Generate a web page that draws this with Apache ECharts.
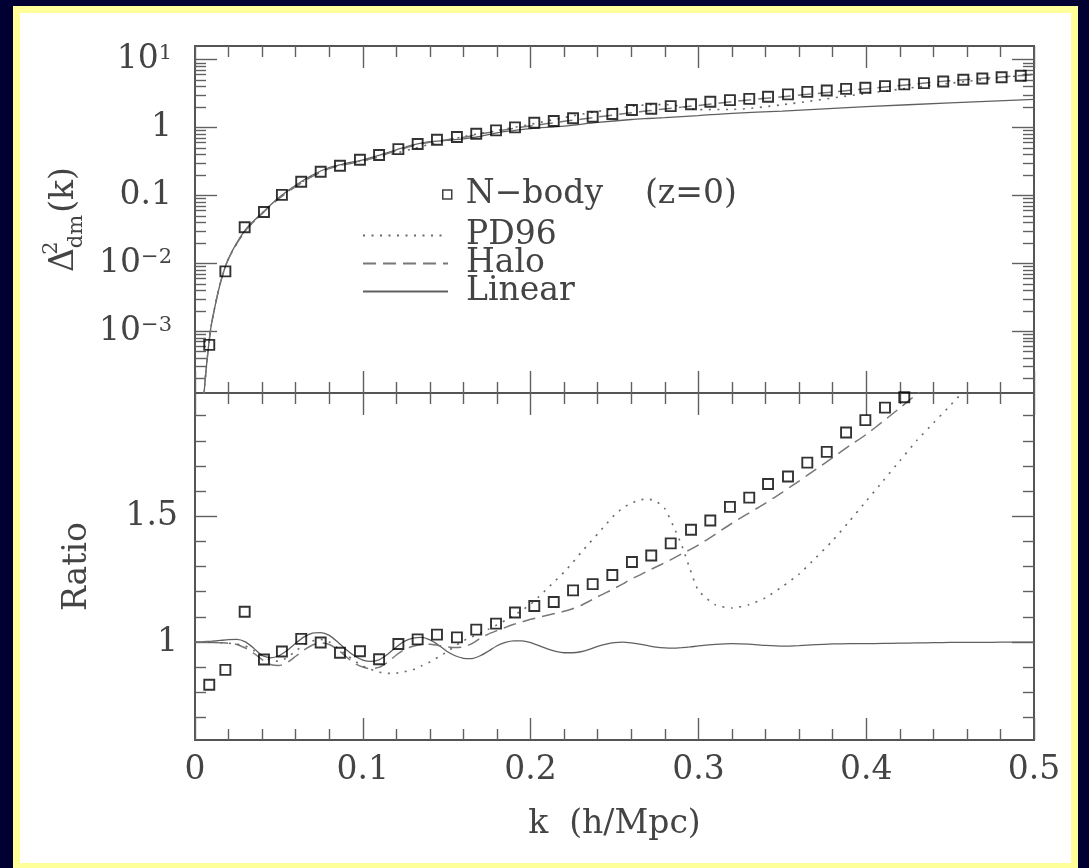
<!DOCTYPE html>
<html><head><meta charset="utf-8">
<script src="https://cdn.jsdelivr.net/npm/echarts@6/dist/echarts.min.js"></script>
<style>
html,body{margin:0;padding:0;width:1089px;height:868px;background:#000033;overflow:hidden}
#frame{position:absolute;left:13px;top:6px;width:1065px;height:862px;background:#ffff99}
#paper{position:absolute;left:20px;top:13px;width:1051px;height:850px;background:#ffffff}
#chart{position:absolute;left:0;top:0;width:1089px;height:868px}
</style></head><body>
<div id="frame"></div><div id="paper"></div><div id="chart"></div>
<script>
// ---------- data ----------
const kNbody = [0.0085,0.0181,0.0296,0.0411,0.0518,0.0633,0.0749,0.0864,0.0983,0.1097,0.1212,0.1327,0.1442,0.1561,0.1676,0.1794,0.1907,0.2022,0.2138,0.2253,0.2370,0.2487,0.2604,0.2719,0.2835,0.2956,0.3071,0.3188,0.3303,0.3415,0.3534,0.3649,0.3765,0.3880,0.3995,0.4112,0.4227,0.4344,0.4459,0.4579,0.4692,0.4807,0.4921];
const deltaNbody = [6.3e-4,7.6e-3,0.034,0.057,0.102,0.159,0.223,0.274,0.336,0.394,0.482,0.572,0.662,0.725,0.811,0.91,1.007,1.18,1.25,1.37,1.44,1.58,1.81,1.89,2.07,2.20,2.40,2.54,2.65,2.84,3.08,3.35,3.52,3.72,3.85,4.08,4.33,4.52,4.76,5.07,5.27,5.51,5.79];
const ratioNbody = [0.830,0.889,1.120,0.930,0.962,1.012,0.998,0.957,0.963,0.931,0.992,1.010,1.029,1.018,1.049,1.073,1.117,1.143,1.159,1.205,1.230,1.266,1.318,1.344,1.392,1.446,1.483,1.537,1.574,1.628,1.658,1.713,1.756,1.833,1.882,1.932,1.973];

const kTop = [0.005,0.006,0.007,0.0085,0.01,0.015,0.02,0.03,0.04,0.05,0.06,0.07,0.08,0.09,0.10,0.11,0.12,0.13,0.14,0.15,0.16,0.17,0.18,0.19,0.20,0.22,0.24,0.26,0.27,0.28,0.29,0.30,0.32,0.35,0.40,0.45,0.50];
const linearTop = [8.9e-5,1.84e-4,3.4e-4,7.4e-4,1.35e-3,5.0e-3,0.0118,0.031,0.055,0.093,0.141,0.200,0.258,0.296,0.334,0.393,0.470,0.558,0.618,0.648,0.683,0.742,0.837,0.904,0.967,1.05,1.19,1.315,1.36,1.40,1.45,1.50,1.62,1.75,2.03,2.31,2.60];
const pd96Top = [8.9e-5,1.84e-4,3.4e-4,7.4e-4,1.35e-3,5.0e-3,0.0117,0.0305,0.0548,0.0916,0.138,0.194,0.251,0.290,0.326,0.370,0.420,0.490,0.566,0.648,0.734,0.818,0.908,1.005,1.115,1.405,1.73,2.05,2.16,2.18,2.05,1.84,1.85,2.17,3.18,4.50,6.1];
const haloTop = [8.9e-5,1.84e-4,3.4e-4,7.4e-4,1.35e-3,5.0e-3,0.0117,0.0302,0.054,0.090,0.135,0.191,0.248,0.287,0.324,0.378,0.456,0.541,0.609,0.663,0.719,0.806,0.888,0.974,1.057,1.234,1.428,1.65,1.765,1.88,2.0,2.12,2.40,2.84,3.72,4.9,6.0];

const kRatio = [0,0.005,0.01,0.015,0.02,0.025,0.03,0.035,0.04,0.045,0.05,0.055,0.06,0.065,0.07,0.075,0.08,0.085,0.09,0.095,0.10,0.105,0.11,0.115,0.12,0.125,0.13,0.135,0.14,0.145,0.15,0.155,0.16,0.165,0.17,0.175,0.18,0.185,0.19,0.195,0.20,0.205,0.21,0.215,0.22,0.225,0.23,0.235,0.24,0.245,0.25,0.255,0.26,0.265,0.27,0.275,0.28,0.285,0.29,0.295,0.30,0.31,0.32,0.33,0.34,0.35,0.36,0.37,0.38,0.39,0.40,0.41,0.42,0.43,0.44,0.45,0.46,0.47,0.48,0.49,0.50];
const linearRatio = [1.000,1.001,1.003,1.006,1.009,1.010,1.000,0.975,0.946,0.937,0.945,0.967,0.995,1.020,1.035,1.037,1.026,1.000,0.970,0.945,0.928,0.923,0.930,0.952,0.980,1.003,1.015,1.018,1.008,0.988,0.963,0.945,0.935,0.934,0.945,0.964,0.985,0.998,1.004,1.004,0.997,0.985,0.972,0.962,0.957,0.957,0.961,0.970,0.982,0.991,0.997,0.999,0.996,0.991,0.985,0.979,0.976,0.975,0.977,0.980,0.984,0.990,0.993,0.991,0.986,0.983,0.985,0.989,0.992,0.993,0.993,0.994,0.995,0.996,0.997,0.998,0.998,0.998,0.999,0.999,0.999];
const haloRatio = [1.000,1.000,0.999,0.997,0.995,0.990,0.976,0.955,0.930,0.910,0.906,0.918,0.943,0.968,0.988,0.996,0.990,0.970,0.942,0.915,0.900,0.893,0.900,0.920,0.948,0.970,0.983,0.990,0.991,0.986,0.981,0.978,0.980,0.993,1.015,1.032,1.045,1.058,1.070,1.080,1.090,1.098,1.106,1.114,1.122,1.132,1.145,1.162,1.180,1.196,1.213,1.231,1.250,1.266,1.283,1.299,1.315,1.332,1.350,1.367,1.385,1.428,1.472,1.512,1.552,1.595,1.640,1.686,1.733,1.780,1.825,1.877,1.930,1.985,2.040,null,null,null,null,null,null];
const pd96Ratio = [1.000,1.000,0.999,0.997,0.995,0.991,0.984,0.966,0.945,0.927,0.923,0.938,0.964,0.988,1.004,1.010,1.000,0.976,0.950,0.925,0.905,0.890,0.880,0.875,0.876,0.882,0.890,0.905,0.920,0.940,0.960,0.984,1.005,1.020,1.035,1.051,1.068,1.086,1.105,1.126,1.150,1.180,1.213,1.245,1.278,1.315,1.355,1.393,1.430,1.468,1.505,1.533,1.552,1.565,1.568,1.558,1.530,1.462,1.385,1.290,1.205,1.148,1.135,1.148,1.176,1.220,1.270,1.335,1.403,1.480,1.560,1.640,1.720,1.800,1.870,1.940,2.010,null,null,null,null];

// axis extents and tick values
const kMin = 0, kMax = 0.5, kStep = 0.1;
const topMin = 1.23e-4, topMax = 15.9;
const topMajorTicks = [0.001, 0.01, 0.1, 1, 10];
const topMajorLabels = {'-3':'10{sup|−3}', '-2':'10{sup|−2}', '-1':'0.1', '0':'1', '1':'10{sup|1}'};
const topMinorTicks = [];
[-4,-3,-2,-1,0].forEach(function(d){ [2,3,4,5,6,7,8,9].forEach(function(m){ const v = Number((m*Math.pow(10,d)).toPrecision(3)); if (v > topMin && v < topMax) topMinorTicks.push(v); }); });
const ratioMin = 0.61, ratioMax = 1.99;
const ratioMajorTicks = [1, 1.5];
const ratioMinorTicks = [0.7,0.8,0.9,1.1,1.2,1.3,1.4,1.6,1.7,1.8,1.9];

const NB = 'N−body    (z=0)';
// ---------- styling ----------
const FONT = 'DejaVu Serif';
const TXT = '#444444';
const AX = '#555555';
const TK = '#606060';
const font = {fontFamily: FONT, fontSize: 33, color: TXT};

function pairs(xs, ys){ return xs.map(function(x,i){ return [x, ys[i]]; }); }

function xAx(g, pos, lab){
  return {gridIndex:g, type:'value', position:pos, min:kMin, max:kMax, interval:kStep,
    axisLine:{show:true, onZero:false, lineStyle:{color:AX, width:2}},
    axisTick:{show:true, inside:true, length:22, lineStyle:{color:TK, width:1.4}},
    minorTick:{show:true, splitNumber:5, length:11, lineStyle:{color:TK, width:1.4}},
    splitLine:{show:false}, minorSplitLine:{show:false},
    axisLabel:Object.assign({show:lab, margin:14}, font),
    name: lab ? 'k  (h/Mpc)' : '', nameLocation:'middle', nameGap:68, nameTextStyle:font,
    axisPointer:{show:false}};
}
function yAx(g, type, mn, mx, pos, ticks, len, labelVals, fmt, margin, name, nameGap, nameStyle){
  const o = {gridIndex:g, type:type, min:mn, max:mx, position:pos,
    axisLine:{show:true, onZero:false, lineStyle:{color:AX, width:2}},
    axisTick:{show:true, inside:true, length:len, customValues:ticks, lineStyle:{color:TK, width:1.4}},
    splitLine:{show:false}, minorTick:{show:false},
    axisLabel: labelVals ? Object.assign({show:true, customValues:labelVals, formatter:fmt, margin:margin,
      rich:{sup:{fontFamily:FONT, fontSize:21, color:TXT, verticalAlign:'top', lineHeight:21}}}, font) : {show:false},
    axisPointer:{show:false}};
  if (type === 'log') o.logBase = 10;
  if (name){ o.name = name; o.nameLocation = 'middle'; o.nameGap = nameGap; o.nameTextStyle = nameStyle; }
  return o;
}
const topFmt = function(v){ return topMajorLabels[String(Math.round(Math.log10(v)))]; };
const ratioFmt = function(v){ return String(v); };
const deltaName = '{d|Δ}{sup|2}{sub|dm}{d|(k)}';
const deltaStyle = Object.assign({}, font, {rich:{
  d:{fontFamily:FONT, fontSize:33, color:TXT, lineHeight:46},
  sup:{fontFamily:FONT, fontSize:21, color:TXT, verticalAlign:'top', lineHeight:21, width:0},
  sub:{fontFamily:FONT, fontSize:21, color:TXT, verticalAlign:'bottom', lineHeight:21, padding:[0,2,0,0]}
}});

const dotted = {color:'#6a6a6a', width:1.6, type:[2,6.5]};
const dashed = {color:'#777777', width:1.5, type:[13,7]};
const solid  = {color:'#606060', width:1.3, type:'solid'};
const sq = {color:'rgba(0,0,0,0)', borderColor:'#000000', borderWidth:1.9};

const option = {
  animation:false,
  backgroundColor:'transparent',
  grid:[{left:195, top:46, width:839, height:347, outerBoundsMode:'none'},
        {left:195, top:393, width:839, height:347, outerBoundsMode:'none'}],
  legend:[
    {left:442, top:178, padding:0, orient:'vertical', itemWidth:9, itemHeight:9,
     textStyle:Object.assign({padding:[0,0,0,9]}, font),
     data:[{name:NB, icon:'rect', itemStyle:{color:'rgba(0,0,0,0)', borderColor:'#111', borderWidth:1.5}}], selectedMode:false},
    {left:362, top:219, padding:0, orient:'vertical', itemWidth:85, itemHeight:14, itemGap:-5,
     itemStyle:{opacity:0},
     textStyle:Object.assign({padding:[0,0,0,13]}, font),
     data:['PD96','Halo','Linear'], selectedMode:false}
  ],
  xAxis:[xAx(0,'bottom',false), xAx(0,'top',false), xAx(1,'top',false), xAx(1,'bottom',true)],
  yAxis:[
    yAx(0,'log',topMin,topMax,'left',topMajorTicks,22,topMajorTicks,topFmt,23,deltaName,108,deltaStyle),
    yAx(0,'log',topMin,topMax,'left',topMinorTicks,11),
    yAx(0,'log',topMin,topMax,'right',topMajorTicks,22),
    yAx(0,'log',topMin,topMax,'right',topMinorTicks,11),
    yAx(1,'value',ratioMin,ratioMax,'left',ratioMajorTicks,22,ratioMajorTicks,ratioFmt,17,'Ratio',101,font),
    yAx(1,'value',ratioMin,ratioMax,'left',ratioMinorTicks,11),
    yAx(1,'value',ratioMin,ratioMax,'right',ratioMajorTicks,22),
    yAx(1,'value',ratioMin,ratioMax,'right',ratioMinorTicks,11)
  ],
  series:[
    {name:'Linear', type:'line', xAxisIndex:0, yAxisIndex:0, data:pairs(kTop,linearTop), symbol:'none', smooth:0.3, lineStyle:solid, itemStyle:{color:solid.color}, clip:true, z:2},
    {name:'Halo', type:'line', xAxisIndex:0, yAxisIndex:0, data:pairs(kTop,haloTop), symbol:'none', smooth:0.3, lineStyle:dashed, itemStyle:{color:dashed.color}, clip:true, z:2},
    {name:'PD96', type:'line', xAxisIndex:0, yAxisIndex:0, data:pairs(kTop,pd96Top), symbol:'none', smooth:0.3, lineStyle:dotted, itemStyle:{color:dotted.color}, clip:true, z:2},
    {name:NB, type:'scatter', xAxisIndex:0, yAxisIndex:0, data:pairs(kNbody,deltaNbody), symbol:'rect', symbolSize:10, itemStyle:sq, clip:true, z:3},
    {name:'Linear', type:'line', xAxisIndex:3, yAxisIndex:4, data:pairs(kRatio,linearRatio), symbol:'none', smooth:0.2, lineStyle:solid, itemStyle:{color:solid.color}, clip:true, z:2},
    {name:'Halo', type:'line', xAxisIndex:3, yAxisIndex:4, data:pairs(kRatio,haloRatio), symbol:'none', smooth:0.2, lineStyle:dashed, itemStyle:{color:dashed.color}, clip:true, z:2},
    {name:'PD96', type:'line', xAxisIndex:3, yAxisIndex:4, data:pairs(kRatio,pd96Ratio), symbol:'none', smooth:0.2, lineStyle:dotted, itemStyle:{color:dotted.color}, clip:true, z:2},
    {name:NB, type:'scatter', xAxisIndex:3, yAxisIndex:4, data:pairs(kNbody.slice(0, ratioNbody.length),ratioNbody), symbol:'rect', symbolSize:10, itemStyle:sq, clip:true, z:3}
  ]
};
const chart = echarts.init(document.getElementById('chart'), null, {renderer:'canvas'});
chart.setOption(option);
</script>
</body></html>
